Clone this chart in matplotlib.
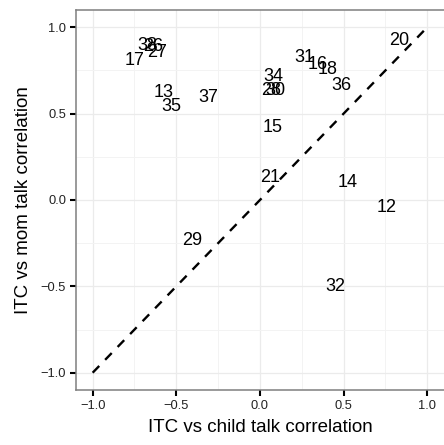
import matplotlib.pyplot as plt

# subject ids and their two correlations
ids = [38, 26, 27, 17, 13, 35, 37, 34, 28, 30, 31, 16, 18, 36, 15, 20, 21, 14, 12, 29, 32]
child_r = [-0.673, -0.637, -0.613, -0.75, -0.577, -0.53, -0.31, 0.077, 0.065, 0.095,
           0.268, 0.345, 0.405, 0.488, 0.077, 0.833, 0.06, 0.524, 0.756, -0.405, 0.452]
mom_r = [0.892, 0.886, 0.851, 0.805, 0.62, 0.539, 0.596, 0.712, 0.631, 0.631,
         0.822, 0.787, 0.758, 0.66, 0.417, 0.926, 0.133, 0.104, -0.046, -0.237, -0.498]

ticks = [-1.0, -0.5, 0.0, 0.5, 1.0]
minor = [-0.75, -0.25, 0.25, 0.75]

plt.rcParams['font.family'] = ['Liberation Sans', 'DejaVu Sans']

fig = plt.figure(figsize=(4.44, 4.45), dpi=100)
ax = fig.add_axes([0.171, 0.1236, 0.829, 0.854])

ax.set_xlim(-1.1, 1.1)
ax.set_ylim(-1.1, 1.1)
ax.set_xticks(ticks)
ax.set_yticks(ticks)
ax.set_xticks(minor, minor=True)
ax.set_yticks(minor, minor=True)
ax.set_xticklabels(['\u22121.0', '\u22120.5', '0.0', '0.5', '1.0'])
ax.set_yticklabels(['\u22121.0', '\u22120.5', '0.0', '0.5', '1.0'])
ax.grid(True, which='major', color='#ebebeb', lw=0.9)
ax.grid(True, which='minor', color='#f3f3f3', lw=0.7)
ax.set_axisbelow(True)

ax.tick_params(which='major', length=4, width=1.5, color='black',
               labelsize=9.3, labelcolor='#222222', pad=3)
ax.tick_params(which='minor', length=0)

for s in ['left', 'bottom', 'top']:
    ax.spines[s].set_color('#7f7f7f')
    ax.spines[s].set_linewidth(1.1)
ax.spines['right'].set_visible(False)

ax.plot([-1, 1], [-1, 1], color='black', ls=(0, (4.0, 3.6)), lw=1.7)

for i, x, y in zip(ids, child_r, mom_r):
    ax.text(x, y, str(i), ha='center', va='center', fontsize=13)

ax.set_xlabel('ITC vs child talk correlation', fontsize=13.5, labelpad=5)
ax.set_ylabel('ITC vs mom talk correlation', fontsize=13.5, labelpad=6)

fig.savefig('out.png', dpi=100)
